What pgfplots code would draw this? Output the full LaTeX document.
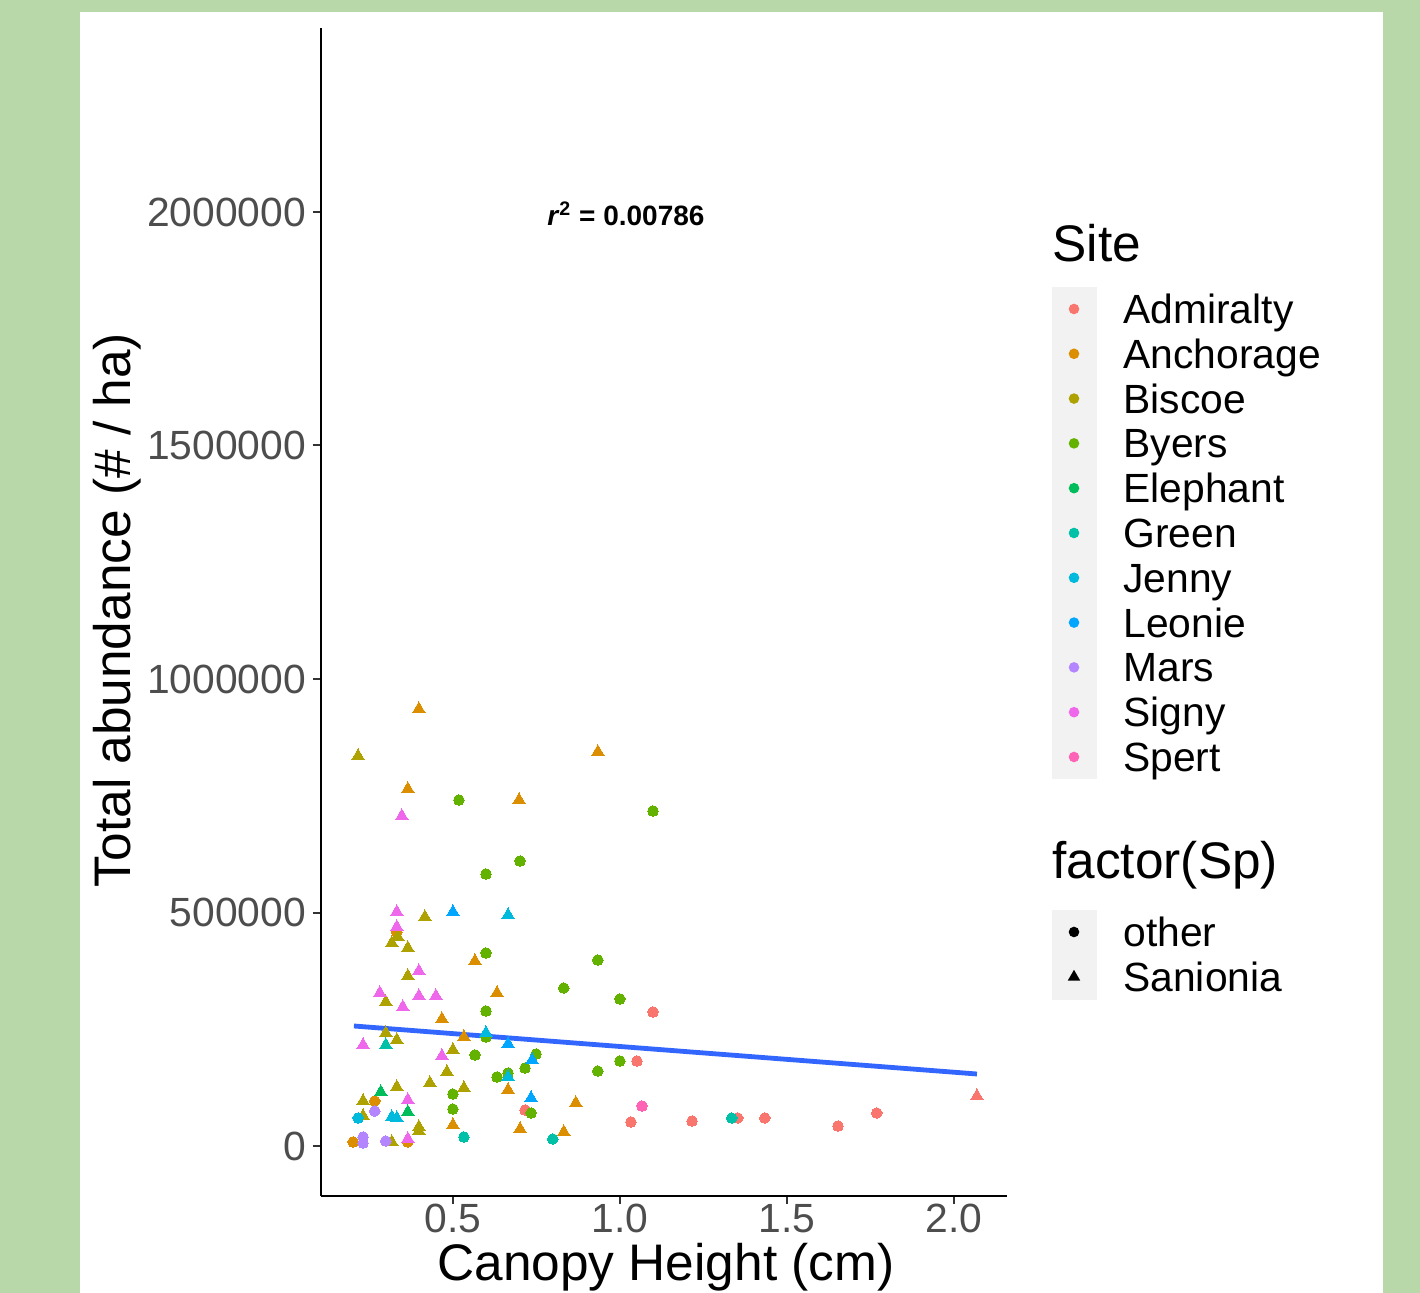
\documentclass[border=0pt]{standalone}
\usepackage{fontspec}
\setmainfont{Liberation Sans}
\usepackage{pgfplots}
\pgfplotsset{compat=1.18}
\definecolor{bggreen}{RGB}{184,216,170}
\definecolor{cAdm}{HTML}{F8766D}
\definecolor{cAnc}{HTML}{DB8E00}
\definecolor{cBis}{HTML}{AEA200}
\definecolor{cBye}{HTML}{64B200}
\definecolor{cEle}{HTML}{00BD5C}
\definecolor{cGre}{HTML}{00C1A7}
\definecolor{cJen}{HTML}{00BADE}
\definecolor{cLeo}{HTML}{00A6FF}
\definecolor{cMar}{HTML}{B385FF}
\definecolor{cSig}{HTML}{EF67EB}
\definecolor{cSpe}{HTML}{FF63B6}
\definecolor{fitblue}{HTML}{3366FF}
\definecolor{labelgray}{HTML}{4D4D4D}
\definecolor{tickgray}{HTML}{333333}
\definecolor{keybg}{HTML}{F2F2F2}
\pgfplotsset{
  circ/.style={only marks, mark=*, mark size=2.65pt, mark options={solid, fill=#1, draw=#1, line width=0pt}},
  tri/.style={only marks, mark=triangle*, mark size=3.6pt, mark options={solid, fill=#1, draw=#1, line width=0pt}},
}
\begin{document}
\begin{tikzpicture}
\fill[bggreen] (-160.5pt,-48.5pt) rectangle (549.5pt,598pt);
\fill[white] (-120.5pt,-48.5pt) rectangle (531pt,592pt);
\begin{axis}[
  at={(0pt,0pt)}, anchor=south west, scale only axis,
  width=343pt, height=584pt,
  xmin=0.105, xmax=2.159, ymin=-107000, ymax=2394000,
  axis x line*=bottom, axis y line*=left,
  axis line style={black, line width=1pt, -},
  xtick={0.5,1,1.5,2}, xticklabels={0.5,1.0,1.5,2.0},
  ytick={0,500000,1000000,1500000,2000000},
  yticklabels={0,500000,1000000,1500000,2000000},
  scaled ticks=false,
  tick align=outside, major tick length=4pt,
  every tick/.style={tickgray, line width=1pt},
  /pgf/number format/assume math mode=true,
  ticklabel style={font=\fontsize{20.4}{24}\selectfont, text=labelgray},
  xticklabel style={inner sep=0pt},
  clip=false,
]
% Admiralty
\addplot[circ=cAdm] coordinates {(1.099,287000) (1.051,182000) (0.716,77100) (1.033,51400) (1.216,53500) (1.353,60000) (1.434,60000) (1.653,42800) (1.769,70700)};
\addplot[tri=cAdm] coordinates {(2.069,107000)};
% Anchorage
\addplot[tri=cAnc] coordinates {(0.398,935700) (0.365,764400) (0.698,740900) (0.934,843700) (0.566,396100) (0.632,327600) (0.467,271900) (0.533,233400) (0.665,119900) (0.500,45000) (0.701,36400) (0.868,92100) (0.832,30000)};
\addplot[circ=cAnc] coordinates {(0.332,458200) (0.266,96400) (0.201,8600) (0.365,8600)};
% Biscoe
\addplot[tri=cBis] coordinates {(0.216,835100) (0.416,490400) (0.335,447500) (0.317,434700) (0.365,424000) (0.365,364000) (0.299,308300) (0.299,242000) (0.332,227000) (0.500,205600) (0.482,158500) (0.332,126300) (0.431,134900) (0.533,124200) (0.231,96400) (0.231,64200) (0.398,40700) (0.398,32100) (0.317,8600)};
% Byers
\addplot[circ=cBye] coordinates {(0.518,740900) (1.099,717300) (0.701,610300) (0.599,582400) (0.599,413300) (0.934,398300) (0.832,338300) (1.000,314800) (0.599,289100) (0.599,233400) (0.749,197000) (0.566,194900) (0.716,167000) (0.934,160600) (1.000,182000) (0.632,147700) (0.665,156300) (0.500,111300) (0.500,79200) (0.734,70700)};
% Elephant
\addplot[tri=cEle] coordinates {(0.284,115600) (0.365,72800)};
% Green
\addplot[tri=cGre] coordinates {(0.299,216300)};
\addplot[circ=cGre] coordinates {(0.533,19300) (0.799,15000) (1.335,60000)};
% Jenny
\addplot[tri=cJen] coordinates {(0.665,494600) (0.599,242000) (0.665,147700) (0.317,62100) (0.332,60000)};
\addplot[circ=cJen] coordinates {(0.216,60000)};
% Leonie
\addplot[tri=cLeo] coordinates {(0.500,501100) (0.665,218400) (0.737,184200) (0.734,102800)};
% Mars
\addplot[circ=cMar] coordinates {(0.266,74900) (0.231,19300) (0.231,6400) (0.299,10700)};
% Signy
\addplot[tri=cSig] coordinates {(0.347,706600) (0.332,501100) (0.332,468900) (0.398,374700) (0.281,327600) (0.398,321200) (0.449,321200) (0.350,297600) (0.231,216300) (0.467,192700) (0.365,98500) (0.365,15000)};
% Spert
\addplot[circ=cSpe] coordinates {(1.066,85700)};
% linear fit
\addplot[color=fitblue, line width=2.4pt, no marks] coordinates {(0.2036,257000) (2.069,154200)};
\node[anchor=base, font=\fontsize{14}{16}\selectfont\bfseries] at (axis cs:1.018,1970000) {\textit{r}\textsuperscript{2} = 0.00786};
\end{axis}
% axis titles
\node[anchor=base, rotate=90, font=\fontsize{25.7}{30}\selectfont] at (-95pt,293pt) {Total abundance (\# / ha)};
\node[anchor=base, inner sep=0pt, font=\fontsize{25.7}{30}\selectfont] at (172.5pt,-42.3pt) {Canopy Height (cm)};
% legend: Site
\node[anchor=base west, inner sep=0pt, font=\fontsize{25.7}{30}\selectfont] at (365.5pt,467pt) {Site};
\fill[keybg] (365.5pt,208.5pt) rectangle (388pt,454.5pt);
\foreach \c/\n [count=\i from 0] in {cAdm/Admiralty,cAnc/Anchorage,cBis/Biscoe,cBye/Byers,cEle/Elephant,cGre/Green,cJen/Jenny,cLeo/Leonie,cMar/Mars,cSig/Signy,cSpe/Spert}{
  \pgfmathsetmacro{\yy}{443.5-22.4*\i}
  \fill[\c] (376.5pt,\yy pt) circle[radius=2.65pt];
  \node[anchor=base west, inner sep=0pt, font=\fontsize{20.4}{24}\selectfont] at (401pt,\yy pt-7.3pt) {\n};
}
% legend: factor(Sp)
\node[anchor=base west, inner sep=0pt, font=\fontsize{25.7}{30}\selectfont] at (365.5pt,158.5pt) {factor(Sp)};
\fill[keybg] (365.5pt,98pt) rectangle (388pt,143pt);
\fill[black] (376.5pt,132pt) circle[radius=2.65pt];
\fill[black] (376.5pt,113.1pt) -- (373.38pt,107.7pt) -- (379.62pt,107.7pt) -- cycle;
\node[anchor=base west, inner sep=0pt, font=\fontsize{20.4}{24}\selectfont] at (401pt,124.7pt) {other};
\node[anchor=base west, inner sep=0pt, font=\fontsize{20.4}{24}\selectfont] at (401pt,102.2pt) {Sanionia};
\pgfresetboundingbox
\useasboundingbox (-160.5pt,-48.5pt) rectangle (549.5pt,598pt);
\end{tikzpicture}
\end{document}
